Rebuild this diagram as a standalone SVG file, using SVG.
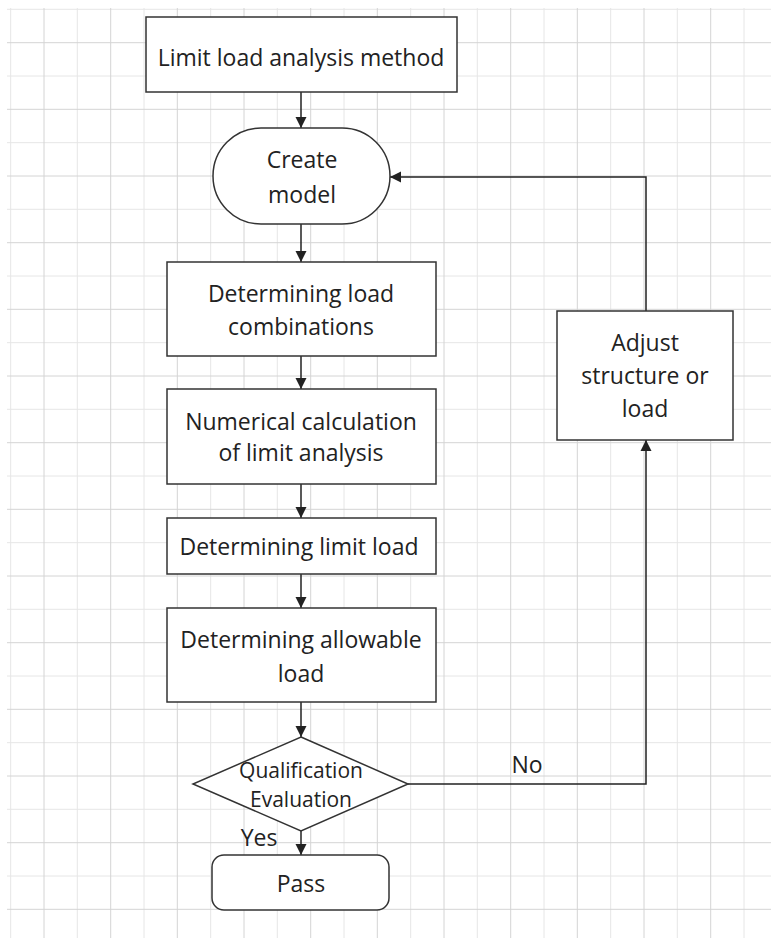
<svg xmlns="http://www.w3.org/2000/svg" width="771" height="938" viewBox="0 0 771 938">
<style>
.minor{stroke:#e6e6e6;stroke-width:1}
.major{stroke:#d4d4d4;stroke-width:1}
.node{fill:#ffffff;stroke:#333333;stroke-width:1.5}
.t{font-family:"Open Sans","Noto Sans",sans-serif;font-size:23px;fill:#222222;text-anchor:middle}
.s{font-size:21px}
.edge{fill:none;stroke:#222222;stroke-width:1.5}
</style>
<defs>
<marker id="arr" markerWidth="11" markerHeight="12" refX="11" refY="5.5" orient="auto" markerUnits="userSpaceOnUse" viewBox="0 0 11 11">
<path d="M0,0 L11,5.5 L0,11 Z" fill="#222222"/>
</marker>
</defs>
<rect x="0" y="0" width="771" height="938" fill="#ffffff"/>
<g id="grid">
<g class="minor">
<line x1="10.7" y1="8" x2="10.7" y2="938"/><line x1="77.3" y1="8" x2="77.3" y2="938"/><line x1="144" y1="8" x2="144" y2="938"/><line x1="210.7" y1="8" x2="210.7" y2="938"/><line x1="277.3" y1="8" x2="277.3" y2="938"/><line x1="344" y1="8" x2="344" y2="938"/><line x1="410.7" y1="8" x2="410.7" y2="938"/><line x1="477.3" y1="8" x2="477.3" y2="938"/><line x1="544" y1="8" x2="544" y2="938"/><line x1="610.7" y1="8" x2="610.7" y2="938"/><line x1="677.3" y1="8" x2="677.3" y2="938"/><line x1="744" y1="8" x2="744" y2="938"/>
<line x1="7" y1="9.3" x2="771" y2="9.3"/><line x1="7" y1="76" x2="771" y2="76"/><line x1="7" y1="142.7" x2="771" y2="142.7"/><line x1="7" y1="209.3" x2="771" y2="209.3"/><line x1="7" y1="276" x2="771" y2="276"/><line x1="7" y1="342.7" x2="771" y2="342.7"/><line x1="7" y1="409.3" x2="771" y2="409.3"/><line x1="7" y1="476" x2="771" y2="476"/><line x1="7" y1="542.7" x2="771" y2="542.7"/><line x1="7" y1="609.3" x2="771" y2="609.3"/><line x1="7" y1="676" x2="771" y2="676"/><line x1="7" y1="742.7" x2="771" y2="742.7"/><line x1="7" y1="809.3" x2="771" y2="809.3"/><line x1="7" y1="876" x2="771" y2="876"/>
</g>
<g class="major">
<line x1="44" y1="8" x2="44" y2="938"/><line x1="110.7" y1="8" x2="110.7" y2="938"/><line x1="177.3" y1="8" x2="177.3" y2="938"/><line x1="244" y1="8" x2="244" y2="938"/><line x1="310.7" y1="8" x2="310.7" y2="938"/><line x1="377.3" y1="8" x2="377.3" y2="938"/><line x1="444" y1="8" x2="444" y2="938"/><line x1="510.7" y1="8" x2="510.7" y2="938"/><line x1="577.3" y1="8" x2="577.3" y2="938"/><line x1="644" y1="8" x2="644" y2="938"/><line x1="710.7" y1="8" x2="710.7" y2="938"/>
<line x1="7" y1="42.7" x2="771" y2="42.7"/><line x1="7" y1="109.3" x2="771" y2="109.3"/><line x1="7" y1="176" x2="771" y2="176"/><line x1="7" y1="242.7" x2="771" y2="242.7"/><line x1="7" y1="309.3" x2="771" y2="309.3"/><line x1="7" y1="376" x2="771" y2="376"/><line x1="7" y1="442.7" x2="771" y2="442.7"/><line x1="7" y1="509.3" x2="771" y2="509.3"/><line x1="7" y1="576" x2="771" y2="576"/><line x1="7" y1="642.7" x2="771" y2="642.7"/><line x1="7" y1="709.3" x2="771" y2="709.3"/><line x1="7" y1="776" x2="771" y2="776"/><line x1="7" y1="842.7" x2="771" y2="842.7"/><line x1="7" y1="909.3" x2="771" y2="909.3"/>
</g>
</g>
<g id="connectors">
<line class="edge" x1="301" y1="92" x2="301" y2="128" marker-end="url(#arr)"/>
<line class="edge" x1="301" y1="224" x2="301" y2="262" marker-end="url(#arr)"/>
<line class="edge" x1="301" y1="356" x2="301" y2="389" marker-end="url(#arr)"/>
<line class="edge" x1="301" y1="484" x2="301" y2="518" marker-end="url(#arr)"/>
<line class="edge" x1="301" y1="574" x2="301" y2="608" marker-end="url(#arr)"/>
<line class="edge" x1="301" y1="702" x2="301" y2="737" marker-end="url(#arr)"/>
<line class="edge" x1="301" y1="831" x2="301" y2="855" marker-end="url(#arr)"/>
<polyline class="edge" points="408,784 646,784 646,440" marker-end="url(#arr)"/>
<polyline class="edge" points="646,311 646,177 390,177" marker-end="url(#arr)"/>
<text class="t" x="259" y="846">Yes</text>
<text class="t" x="527" y="773">No</text>
</g>
<g id="n1">
<rect class="node" x="146" y="17" width="311" height="75"/>
<text class="t" x="301" y="66">Limit load analysis method</text>
</g>
<g id="n2">
<rect class="node" x="213" y="128" width="177" height="96" rx="48" ry="48"/>
<text class="t" x="302" y="168">Create</text>
<text class="t" x="302" y="203">model</text>
</g>
<g id="n3">
<rect class="node" x="167" y="262" width="269" height="94"/>
<text class="t" x="301" y="302">Determining load</text>
<text class="t" x="301" y="335">combinations</text>
</g>
<g id="n4">
<rect class="node" x="167" y="389" width="269" height="95"/>
<text class="t" x="301" y="430">Numerical calculation</text>
<text class="t" x="301" y="461">of limit analysis</text>
</g>
<g id="n5">
<rect class="node" x="167" y="518" width="269" height="56"/>
<text class="t" x="299" y="555">Determining limit load</text>
</g>
<g id="n6">
<rect class="node" x="167" y="608" width="269" height="94"/>
<text class="t" x="301" y="648">Determining allowable</text>
<text class="t" x="301" y="682">load</text>
</g>
<g id="n7">
<polygon class="node" points="301,737 408,784 301,831 193,784"/>
<text class="t s" x="301" y="778">Qualification</text>
<text class="t s" x="301" y="807">Evaluation</text>
</g>
<g id="n8">
<rect class="node" x="212" y="855" width="177" height="55" rx="12" ry="12"/>
<text class="t" x="301" y="892">Pass</text>
</g>
<g id="n9">
<rect class="node" x="557" y="311" width="176" height="129"/>
<text class="t" x="645" y="351">Adjust</text>
<text class="t" x="645" y="384">structure or</text>
<text class="t" x="645" y="417">load</text>
</g>
</svg>
